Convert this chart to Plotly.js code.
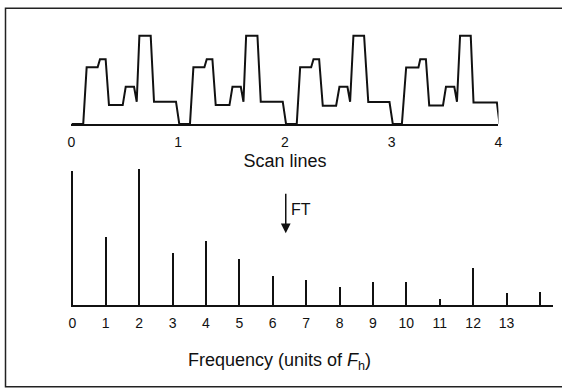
<!DOCTYPE html>
<html>
<head>
<meta charset="utf-8">
<script src="https://cdn.plot.ly/plotly-3.0.1.min.js"></script>
<style>html,body{margin:0;padding:0;background:#fff;}#chart{width:562px;height:389px;}</style>
</head>
<body>
<div id="chart"></div>
<script>
// Top panel: video signal over four scan lines
const scanTicks = [0, 1, 2, 3, 4];
const signalT = [
  0, 0.11, 0.142, 0.245, 0.267, 0.32, 0.351, 0.48, 0.508, 0.586, 0.611, 0.636, 0.742, 0.773, 0.979, 1.01,
  1.11, 1.142, 1.245, 1.267, 1.32, 1.351, 1.48, 1.508, 1.586, 1.611, 1.636, 1.742, 1.773, 1.979, 2.01,
  2.11, 2.142, 2.245, 2.267, 2.32, 2.354, 2.479, 2.51, 2.585, 2.61, 2.641, 2.741, 2.78, 2.979, 3.01,
  3.095, 3.135, 3.25, 3.267, 3.32, 3.351, 3.48, 3.508, 3.586, 3.611, 3.64, 3.74, 3.766, 3.985, 4.01
];
const signalV = [
  0, 0, 0.642, 0.642, 0.733, 0.733, 0.215, 0.215, 0.422, 0.422, 0.253, 1.0, 1.0, 0.253, 0.253, 0,
  0, 0.642, 0.642, 0.733, 0.733, 0.215, 0.215, 0.422, 0.422, 0.253, 1.0, 1.0, 0.253, 0.253, 0,
  0, 0.642, 0.642, 0.733, 0.733, 0.207, 0.207, 0.422, 0.422, 0.253, 1.0, 1.0, 0.25, 0.25, 0,
  0, 0.64, 0.64, 0.733, 0.733, 0.21, 0.21, 0.422, 0.422, 0.253, 1.0, 1.0, 0.245, 0.245, 0
];
// Bottom panel: Fourier spectrum lines
const freqTicks = [0, 1, 2, 3, 4, 5, 6, 7, 8, 9, 10, 11, 12, 13];
const freq = [0, 1, 2, 3, 4, 5, 6, 7, 8, 9, 10, 11, 12, 13, 14];
const amp = [0.99, 0.50, 1.0, 0.385, 0.47, 0.34, 0.215, 0.185, 0.135, 0.17, 0.17, 0.042, 0.27, 0.09, 0.095];

const FONT = 'Liberation Sans, Arial, Helvetica, sans-serif';

const traces = [
  {type: 'scatter', mode: 'lines', x: signalT, y: signalV, xaxis: 'x', yaxis: 'y',
   line: {color: '#111', width: 2}, hoverinfo: 'skip'},
  {type: 'bar', x: freq, y: amp, xaxis: 'x2', yaxis: 'y2', width: 0.06,
   marker: {color: '#111', line: {width: 0}}, hoverinfo: 'skip'}
];

const layout = {
  width: 562, height: 389,
  margin: {l: 0, r: 0, t: 0, b: 0},
  paper_bgcolor: '#fff', plot_bgcolor: 'rgba(0,0,0,0)',
  showlegend: false,
  font: {family: FONT, color: '#111'},
  xaxis: {domain: [0.1272, 0.8870], range: [0, 4], anchor: 'y',
    tickvals: scanTicks, ticks: '', showgrid: false, zeroline: false,
    showline: true, linecolor: '#111', linewidth: 2, ticklabelstandoff: 4,
    tickfont: {size: 14, family: FONT, color: '#111'},
    title: {text: 'Scan lines', font: {size: 18, family: FONT, color: '#111'}, standoff: 6}},
  yaxis: {domain: [0.681, 0.923], range: [0, 1.0646], visible: false},
  xaxis2: {domain: [0.1263, 0.9845], range: [-0.04, 14.4], anchor: 'y2',
    tickvals: freqTicks, ticks: '', showgrid: false, zeroline: false,
    showline: true, linecolor: '#111', linewidth: 2, ticklabelstandoff: 4,
    tickfont: {size: 14, family: FONT, color: '#111'}},
  yaxis2: {domain: [0.2159, 0.5758], range: [0, 1.0317], visible: false},
  bargap: 0,
  annotations: [
    {xref: 'x2', yref: 'y2', x: 6.39, y: 0.528, ax: 0, ay: -41, text: '',
     showarrow: true, arrowhead: 2, arrowsize: 1.3, arrowwidth: 1.5, arrowcolor: '#111'},
    {xref: 'x2', yref: 'y2', x: 6.5, y: 0.707, text: 'FT', showarrow: false,
     xanchor: 'left', yanchor: 'middle', font: {size: 16, family: FONT, color: '#111'}},
    {xref: 'paper', yref: 'paper', x: 0.498, y: 0.0707,
     text: 'Frequency (units of <i>F</i><sub>h</sub>)', showarrow: false,
     xanchor: 'center', yanchor: 'middle', font: {size: 18, family: FONT, color: '#111'}}
  ],
  shapes: [
    {type: 'rect', xref: 'paper', yref: 'paper', x0: 5.5 / 562, x1: 1.02,
     y0: 2.3 / 389, y1: 380.7 / 389, line: {color: '#222', width: 1.5}}
  ]
};

Plotly.newPlot('chart', traces, layout, {staticPlot: true, displayModeBar: false});
</script>
</body>
</html>
